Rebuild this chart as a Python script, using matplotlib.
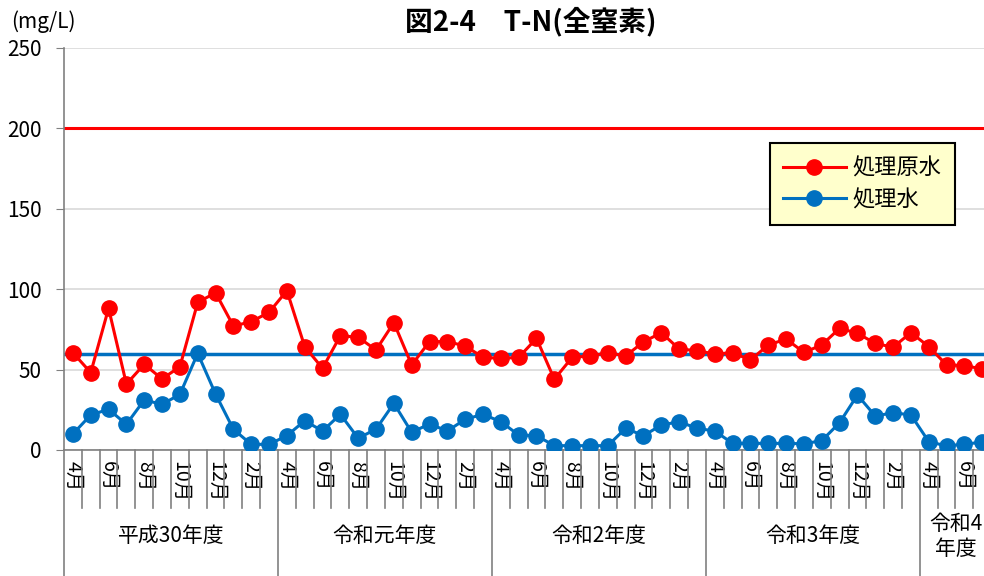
import matplotlib
matplotlib.use("Agg")
import matplotlib.pyplot as plt
from matplotlib.lines import Line2D
import matplotlib.transforms as mtransforms

plt.rcParams['font.family'] = ['Noto Sans CJK JP', 'DejaVu Sans']

## data (monthly, April H30 -> July R4)
raw = [60.5, 48.1, 88.1, 41.0, 53.3, 44.2, 51.8, 91.8, 97.8, 77.1, 79.8, 85.6,
       99.1, 64.3, 50.8, 71.1, 70.1, 62.2, 79.2, 52.9, 67.4, 67.4, 64.7, 57.6,
       57.0, 57.6, 69.4, 44.0, 57.6, 58.5, 60.5, 58.5, 67.2, 73.0, 62.8, 61.8,
       59.7, 60.5, 56.0, 65.3, 69.0, 60.7, 65.3, 75.7, 72.6, 66.3, 63.9, 73.0,
       64.3, 52.9, 52.5, 50.4]
treated = [10.0, 21.8, 25.3, 16.0, 31.1, 28.4, 34.6, 60.1, 34.8, 12.9, 3.5, 3.5,
           8.9, 18.2, 11.8, 22.2, 7.3, 13.0, 29.0, 11.0, 16.2, 11.8, 19.1, 22.2,
           17.6, 9.3, 8.9, 2.7, 2.7, 2.7, 2.7, 13.5, 8.9, 15.5, 17.6, 13.5,
           11.8, 4.1, 4.1, 4.1, 4.1, 3.9, 5.8, 17.0, 34.2, 21.1, 23.2, 21.8,
           5.2, 2.5, 3.7, 4.8]
years = ['平成30年度', '令和元年度', '令和2年度', '令和3年度', '令和4\n年度']
limit_raw = 200   # 処理原水 standard
limit_treated = 60  # 処理水 standard

months = [(i + 3) % 12 + 1 for i in range(len(raw))]
x = list(range(len(raw)))

red = '#FF0000'
blue = '#0070C0'
grey = '#808080'

fig = plt.figure(figsize=(9.84, 5.76), dpi=100)
ax = fig.add_axes([64 / 984, 126 / 576, 920 / 984, 402 / 576])

ax.set_ylim(0, 250)
ax.set_yticks([0, 50, 100, 150, 200, 250])
ax.set_xlim(-0.5, -0.5 + 920 / 17.83)
ax.yaxis.grid(True, color='#D9D9D9', lw=1.2)
ax.set_axisbelow(True)

ax.axhline(limit_raw, color=red, lw=2.2, zorder=2)
ax.axhline(limit_treated, color=blue, lw=2.5, zorder=2)

ax.plot(x, raw, color=red, lw=2.2, marker='o', ms=11, label='処理原水', zorder=4)
ax.plot(x, treated, color=blue, lw=2.2, marker='o', ms=11, label='処理水', zorder=4)

for s in ['top', 'right']:
    ax.spines[s].set_visible(False)
ax.spines['left'].set_color(grey)
ax.spines['bottom'].set_color(grey)
ax.spines['left'].set_linewidth(1.2)
ax.spines['bottom'].set_linewidth(1.2)

ax.tick_params(axis='y', length=6, color=grey, labelsize=15, pad=10)
ax.tick_params(axis='x', length=0, labelsize=14, pad=8)
ax.set_xticks([i for i in x if months[i] % 2 == 0])
ax.set_xticklabels([str(months[i]) + '月' for i in x if months[i] % 2 == 0], rotation=-90, va='top')

## category separators below the axis
trans = mtransforms.blended_transform_factory(ax.transData, ax.transAxes)
for i in range(len(raw) + 1):
    b = i - 0.5
    low = -0.32 if i % 12 == 0 else -0.144
    ax.add_line(Line2D([b, b], [0, low], transform=trans, color=grey, lw=1.2, clip_on=False))
for k, name in enumerate(years):
    cx = 12 * k + 5.5
    if k == len(years) - 1:
        cx = 12 * k + 1.5
    ax.text(cx, -0.215, name, transform=trans, ha='center', va='center', fontsize=15,
            linespacing=1.15)

fig.text(43 / 984, 1 - 22 / 576, '(mg/L)', ha='center', va='center', fontsize=15)
fig.text(531 / 984, 1 - 22 / 576, '図2-4　T-N(全窒素)', ha='center', va='center',
         fontsize=20, fontweight='bold')

leg = ax.legend(loc='upper left', fontsize=16, frameon=True, fancybox=False,
                edgecolor='black', facecolor='#FFFFCC', handlelength=2.8,
                handletextpad=0.3, borderpad=0.6, labelspacing=0.4, borderaxespad=0)
leg.set_bbox_to_anchor((770 / 984, 1 - 143 / 576), transform=fig.transFigure)
leg.get_frame().set_linewidth(1.5)
leg.get_frame().set_alpha(1)

plt.savefig('out.png', dpi=100)
